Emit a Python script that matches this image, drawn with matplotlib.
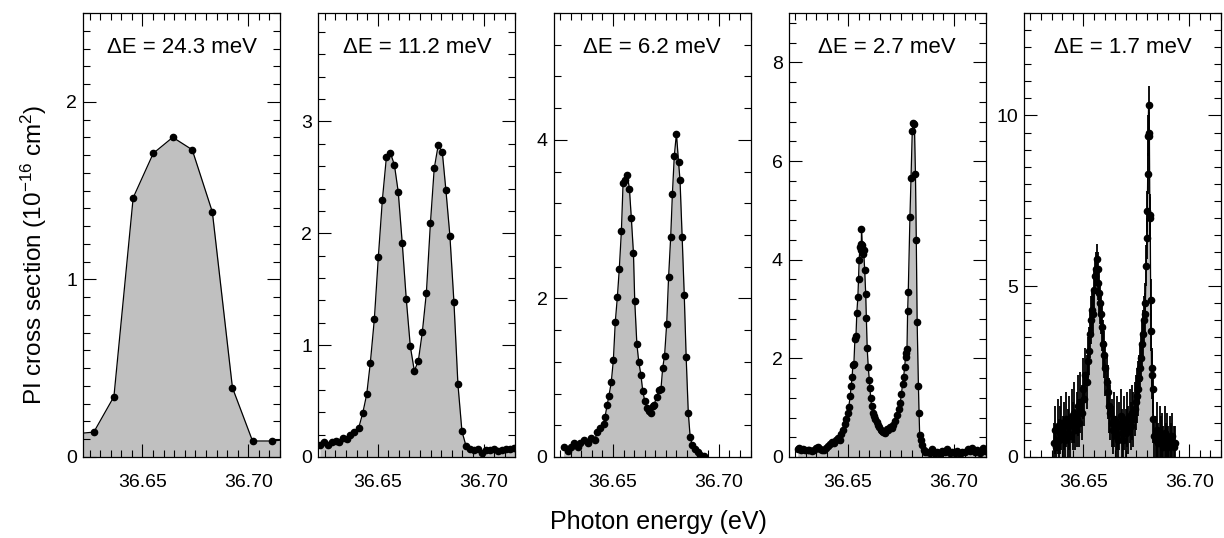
import matplotlib
matplotlib.use('Agg')
import matplotlib.pyplot as plt
from matplotlib.ticker import MultipleLocator, FormatStrFormatter

plt.rcParams['font.family'] = ['Liberation Sans', 'DejaVu Sans']
plt.rcParams['mathtext.default'] = 'regular'

# resolution of each scan (meV)
resolutions = ['24.3', '11.2', '6.2', '2.7', '1.7']

# photon energy (eV) and PI cross section (1e-16 cm^2)
e1 = [36.6177, 36.6270, 36.6365, 36.6456, 36.6551, 36.6643, 36.6735, 36.6830,
      36.6925, 36.7020, 36.7111, 36.7204]
s1 = [0.13, 0.14, 0.34, 1.46, 1.71, 1.80, 1.73, 1.38, 0.39, 0.09, 0.09, 0.10]

e2 = [36.6227, 36.6246, 36.6265, 36.6284, 36.6302, 36.6319, 36.6337, 36.6356, 36.6371, 36.6390,
      36.6410, 36.6429, 36.6448, 36.6465, 36.6484, 36.6503, 36.6522, 36.6541, 36.6560, 36.6579,
      36.6597, 36.6616, 36.6635, 36.6654, 36.6673, 36.6692, 36.6711, 36.6730, 36.6749, 36.6767,
      36.6786, 36.6805, 36.6822, 36.6841, 36.6860, 36.6879, 36.6898, 36.6917, 36.6937, 36.6956,
      36.6975, 36.6994, 36.7013, 36.7032, 36.7051, 36.7070, 36.7089, 36.7108, 36.7127, 36.7146]
s2 = [0.11, 0.13, 0.11, 0.13, 0.14, 0.13, 0.17, 0.16, 0.20, 0.22,
      0.26, 0.39, 0.56, 0.84, 1.23, 1.79, 2.30, 2.68, 2.72, 2.61,
      2.37, 1.91, 1.41, 0.99, 0.77, 0.86, 1.12, 1.47, 2.09, 2.58,
      2.79, 2.73, 2.39, 1.98, 1.39, 0.65, 0.23, 0.10, 0.07, 0.06,
      0.07, 0.04, 0.06, 0.06, 0.07, 0.05, 0.06, 0.07, 0.07, 0.08]

e3 = [36.6267, 36.6286, 36.6302, 36.6314, 36.6333, 36.6346, 36.6362, 36.6381, 36.6397, 36.6416,
      36.6425, 36.6441, 36.6457, 36.6463, 36.6473, 36.6481, 36.6492, 36.6502, 36.6511, 36.6521,
      36.6530, 36.6540, 36.6548, 36.6559, 36.6568, 36.6578, 36.6587, 36.6597, 36.6603, 36.6613,
      36.6622, 36.6632, 36.6641, 36.6651, 36.6660, 36.6670, 36.6679, 36.6687, 36.6695, 36.6706,
      36.6717, 36.6727, 36.6735, 36.6744, 36.6754, 36.6763, 36.6773, 36.6781, 36.6790, 36.6800,
      36.6810, 36.6817, 36.6827, 36.6837, 36.6846, 36.6856, 36.6865, 36.6875, 36.6887, 36.6900,
      36.6913, 36.6929]
s3 = [0.12, 0.07, 0.13, 0.18, 0.12, 0.17, 0.21, 0.18, 0.24, 0.22,
      0.32, 0.36, 0.41, 0.51, 0.66, 0.77, 0.94, 1.22, 1.70, 2.02,
      2.37, 2.85, 3.46, 3.49, 3.56, 3.38, 3.01, 2.57, 1.97, 1.43,
      1.20, 1.04, 0.83, 0.70, 0.62, 0.58, 0.55, 0.64, 0.66, 0.76,
      0.84, 0.86, 1.12, 1.28, 1.68, 2.27, 2.78, 3.32, 3.80, 4.08,
      3.72, 3.49, 2.78, 2.04, 1.26, 0.56, 0.25, 0.15, 0.10, 0.06,
      0.03, 0.01]

e4 = [36.6262, 36.6270, 36.6279, 36.6289, 36.6298, 36.6308, 36.6317, 36.6327, 36.6337, 36.6346,
      36.6356, 36.6365, 36.6375, 36.6384, 36.6394, 36.6403, 36.6413, 36.6422, 36.6432, 36.6441,
      36.6451, 36.6460, 36.6468, 36.6476, 36.6484, 36.6490, 36.6497, 36.6503, 36.6510, 36.6514,
      36.6519, 36.6522, 36.6527, 36.6532, 36.6537, 36.6541, 36.6546, 36.6549, 36.6552, 36.6556,
      36.6559, 36.6562, 36.6563, 36.6567, 36.6570, 36.6573, 36.6578, 36.6583, 36.6586, 36.6590,
      36.6595, 36.6600, 36.6603, 36.6606, 36.6611, 36.6616, 36.6622, 36.6629, 36.6635, 36.6641,
      36.6648, 36.6654, 36.6660, 36.6667, 36.6675, 36.6683, 36.6690, 36.6698, 36.6706, 36.6714,
      36.6722, 36.6730, 36.6738, 36.6746, 36.6752, 36.6757, 36.6762, 36.6767, 36.6771, 36.6775,
      36.6778, 36.6781, 36.6784, 36.6792, 36.6797, 36.6803, 36.6807, 36.6813, 36.6818, 36.6822,
      36.6826, 36.6832, 36.6835, 36.6838, 36.6845, 36.6851, 36.6857, 36.6865, 36.6873, 36.6885,
      36.6897, 36.6909, 36.6921, 36.6933, 36.6945, 36.6957, 36.6968, 36.6980, 36.6992, 36.7004,
      36.7016, 36.7028, 36.7040, 36.7052, 36.7064, 36.7076, 36.7087, 36.7099, 36.7111, 36.7123,
      36.7135, 36.7147, 36.7156]
s4 = [0.16, 0.18, 0.14, 0.16, 0.15, 0.14, 0.14, 0.13, 0.15, 0.18,
      0.21, 0.17, 0.15, 0.14, 0.18, 0.22, 0.27, 0.31, 0.28, 0.34,
      0.38, 0.35, 0.46, 0.55, 0.66, 0.78, 0.90, 1.02, 1.24, 1.44,
      1.62, 1.86, 1.88, 2.40, 2.46, 2.92, 3.25, 3.60, 4.00, 4.25,
      4.32, 4.20, 4.62, 4.30, 4.12, 4.20, 3.80, 3.30, 2.82, 2.20,
      1.82, 1.56, 1.40, 1.20, 1.04, 0.90, 0.84, 0.78, 0.70, 0.64,
      0.60, 0.55, 0.52, 0.50, 0.48, 0.56, 0.55, 0.60, 0.58, 0.64,
      0.72, 0.85, 0.98, 1.10, 1.28, 1.48, 1.62, 1.82, 2.02, 2.10,
      2.18, 2.95, 3.35, 4.87, 5.65, 6.61, 6.78, 6.76, 5.73, 4.39,
      2.73, 1.44, 0.89, 0.45, 0.35, 0.24, 0.14, 0.10, 0.11, 0.08,
      0.16, 0.09, 0.11, 0.07, 0.13, 0.10, 0.16, 0.08, 0.11, 0.09,
      0.13, 0.07, 0.11, 0.10, 0.16, 0.12, 0.18, 0.10, 0.14, 0.09,
      0.18, 0.12, 0.16]

e5 = [36.6360, 36.6366, 36.6372, 36.6378, 36.6384, 36.6390, 36.6396, 36.6402, 36.6408, 36.6414,
      36.6420, 36.6426, 36.6432, 36.6438, 36.6444, 36.6450, 36.6456, 36.6462, 36.6468, 36.6474,
      36.6480, 36.6486, 36.6492, 36.6498, 36.6504, 36.6510, 36.6516, 36.6522, 36.6527, 36.6532,
      36.6537, 36.6542, 36.6547, 36.6551, 36.6555, 36.6559, 36.6563, 36.6567, 36.6571, 36.6575,
      36.6579, 36.6583, 36.6588, 36.6593, 36.6598, 36.6604, 36.6610, 36.6616, 36.6622, 36.6628,
      36.6634, 36.6640, 36.6646, 36.6652, 36.6658, 36.6664, 36.6670, 36.6676, 36.6682, 36.6688,
      36.6694, 36.6700, 36.6706, 36.6712, 36.6718, 36.6724, 36.6730, 36.6736, 36.6742, 36.6748,
      36.6754, 36.6760, 36.6765, 36.6769, 36.6773, 36.6777, 36.6781, 36.6785, 36.6789, 36.6793,
      36.6797, 36.6800, 36.6802, 36.6804, 36.6806, 36.6808, 36.6810, 36.6812, 36.6814, 36.6816,
      36.6818, 36.6820, 36.6822, 36.6825, 36.6828, 36.6831, 36.6836, 36.6842, 36.6848, 36.6854,
      36.6860, 36.6866, 36.6872, 36.6878, 36.6884, 36.6890, 36.6896, 36.6902, 36.6908, 36.6914,
      36.6920, 36.6926, 36.6932]
s5 = [0.4, 0.8, 0.3, 0.9, 0.5, 0.8, 1.0, 0.6, 0.9, 0.5,
      1.1, 0.7, 1.0, 0.6, 1.2, 0.9, 1.3, 0.8, 1.1, 1.5,
      1.0, 1.6, 1.3, 2.0, 1.7, 2.4, 2.2, 2.8, 3.1, 3.6,
      4.0, 4.3, 4.2, 4.9, 5.3, 5.5, 5.8, 5.5, 5.1, 4.8,
      4.5, 4.2, 3.8, 3.3, 3.0, 2.6, 2.2, 1.9, 1.5, 1.3,
      1.0, 0.8, 1.1, 0.6, 1.0, 0.5, 0.9, 1.2, 0.7, 0.5,
      1.0, 0.7, 1.1, 0.8, 1.2, 0.9, 1.3, 1.1, 1.4, 1.6,
      1.8, 2.0, 2.3, 2.6, 2.9, 3.3, 3.6, 4.0, 4.2, 4.5,
      5.6, 6.4, 7.2, 8.3, 9.4, 10.3, 9.5, 9.4, 7.1, 7.0,
      4.6, 3.7, 2.6, 2.4, 2.0, 1.1, 0.6, 0.5, 0.8, 0.4,
      0.7, 0.5, 0.6, 0.3, 0.7, 0.4, 0.6, 0.3, 0.5, 0.4,
      0.6, 0.3, 0.4]
err5 = [0.6, 0.7, 0.5, 0.8, 0.6, 0.7, 0.8, 0.6, 0.7, 0.5,
        0.8, 0.7, 0.8, 0.6, 0.8, 0.7, 0.9, 0.6, 0.8, 0.9,
        0.7, 0.9, 0.8, 0.9, 0.8, 0.8, 0.8, 0.7, 0.7, 0.7,
        0.7, 0.6, 0.6, 0.6, 0.5, 0.5, 0.45, 0.5, 0.5, 0.6,
        0.6, 0.6, 0.7, 0.7, 0.7, 0.8, 0.8, 0.8, 0.8, 0.8,
        0.7, 0.7, 0.8, 0.6, 0.8, 0.6, 0.7, 0.8, 0.7, 0.6,
        0.8, 0.7, 0.8, 0.7, 0.8, 0.7, 0.8, 0.8, 0.8, 0.8,
        0.8, 0.8, 0.7, 0.7, 0.7, 0.7, 0.7, 0.7, 0.6, 0.6,
        0.6, 0.6, 0.6, 0.6, 0.6, 0.55, 0.6, 0.6, 0.6, 0.6,
        0.6, 0.6, 0.6, 0.7, 0.7, 0.7, 0.6, 0.7, 0.8, 0.6,
        0.8, 0.7, 0.7, 0.6, 0.8, 0.6, 0.7, 0.6, 0.7, 0.6,
        0.7, 0.6, 0.5]

energies = [e1, e2, e3, e4, e5]
sections = [s1, s2, s3, s4, s5]

# axis setup per panel
ymax = [2.5, 3.97, 5.6, 9.0, 13.0]
ymajor = [1, 1, 2, 2, 5]
yminor = [0.1, 0.2, 0.4, 0.4, 0.5]

fig, axes = plt.subplots(1, 5, figsize=(12.24, 5.38), dpi=100)
fig.subplots_adjust(left=0.068, right=0.9975, bottom=0.1506, top=0.9758, wspace=0.195)

for i, ax in enumerate(axes):
    x = energies[i]
    y = sections[i]
    ax.fill_between(x, y, 0, color='#c0c0c0', lw=0, zorder=1)
    if i == 4:
        ax.errorbar(x, y, yerr=err5, fmt='o-', color='k', ms=4.5, lw=0.9,
                    elinewidth=1.3, capsize=0, zorder=3)
    else:
        ax.plot(x, y, 'o-', color='k', ms=4.5, lw=0.9, zorder=3)

    ax.set_xlim(36.622, 36.715)
    ax.set_ylim(0, ymax[i])
    ax.xaxis.set_major_locator(MultipleLocator(0.05))
    ax.xaxis.set_minor_locator(MultipleLocator(0.005))
    ax.xaxis.set_major_formatter(FormatStrFormatter('%.2f'))
    ax.yaxis.set_major_locator(MultipleLocator(ymajor[i]))
    ax.yaxis.set_minor_locator(MultipleLocator(yminor[i]))
    ax.yaxis.set_major_formatter(FormatStrFormatter('%g'))
    ax.tick_params(which='both', direction='in', top=True, right=True,
                   width=0.8, labelsize=14)
    ax.tick_params(which='major', length=9.5)
    ax.tick_params(which='minor', length=5)
    ax.tick_params(axis='x', which='both', pad=12)
    ax.tick_params(axis='y', which='both', pad=4.5)
    for sp in ax.spines.values():
        sp.set_linewidth(0.9)

    ax.text(0.5, 0.923, '\u0394E = ' + resolutions[i] + ' meV', transform=ax.transAxes,
            ha='center', va='center', fontsize=16)

fig.text(0.028, 0.526, 'PI cross section (10$^{-16}$ cm$^{2}$)', rotation=90,
         ha='center', va='center', fontsize=17.5)
fig.text(0.5376, 0.030, 'Photon energy (eV)', ha='center', va='center', fontsize=18)

plt.savefig('out.png', dpi=100)
